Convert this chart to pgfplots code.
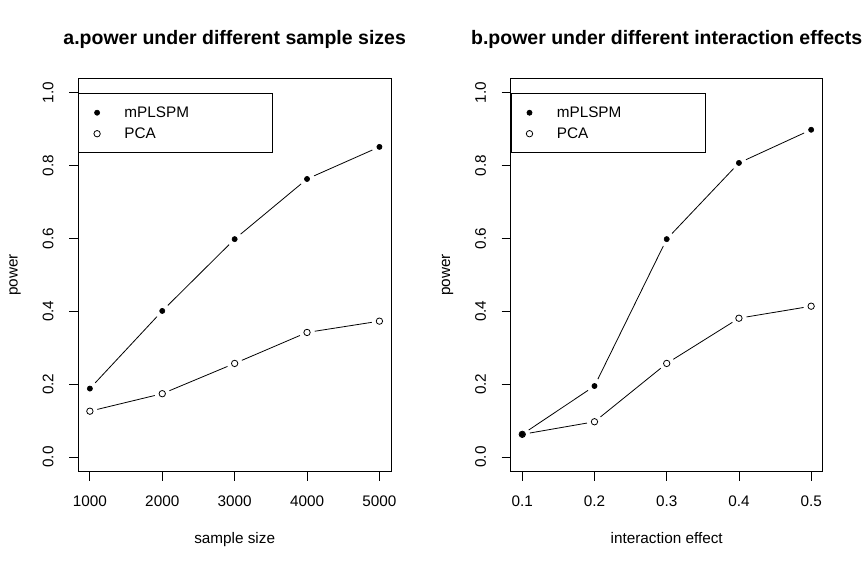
\documentclass[border=0pt]{standalone}
\usepackage{pgfplots}
\pgfplotsset{compat=1.18}
\usepackage{fontspec}
\setmainfont{Liberation Sans}

\newcommand{\lblfont}{\fontsize{15.3bp}{18bp}\selectfont}

\pgfplotsset{
  rpanel/.style={
    scale only axis, anchor=south west,
    height=393.7bp,
    ymin=-0.04, ymax=1.04,
    ytick={0,0.2,0.4,0.6,0.8,1},
    yticklabels={0.0,0.2,0.4,0.6,0.8,1.0},
    tick pos=left, tick align=outside, major tick length=9bp,
    axis line style={line width=0.8bp},
    every tick/.style={black, line width=0.8bp},
    tick label style={font=\lblfont},
    xticklabel style={anchor=base}, xticklabel shift=26bp,
    yticklabel style={rotate=90, anchor=base}, yticklabel shift=15.8bp,
    every axis x label/.style={at={(axis description cs:0.5,-0.1836)}, anchor=base, font=\lblfont},
    every axis y label/.style={at={(axis description cs:-0.1944,0.5)}, rotate=90, anchor=base, font=\lblfont},
    ylabel={power},
    title style={at={(axis description cs:0.5,1.0711)}, anchor=base,
      font=\bfseries\fontsize{19.5bp}{22bp}\selectfont},
    legend style={at={(axis description cs:0,0.9611)}, anchor=north west,
      draw=black, line width=0.8bp, inner xsep=0pt, inner ysep=8.5bp,
      row sep=0pt, nodes={inner sep=0pt}, font=\lblfont},
    legend cell align=left,
    legend image code/.code={%
      \path[draw=none, fill=none] (-18.4bp,-10.5bp) rectangle (27.3bp,10.5bp);
      \draw[##1] plot coordinates {(0bp,0bp)};},
    ln/.style={black, line width=0.8bp, no marks, forget plot},
    mask/.style={only marks, mark=*, mark size=7.5bp, draw=white, fill=white,
      mark options={draw=white, fill=white}, forget plot},
    full/.style={only marks, mark=*, mark size=2.6bp,
      mark options={draw=black, fill=black, line width=0.6bp}},
    open/.style={only marks, mark=o, mark size=3.2bp,
      mark options={draw=black, line width=0.8bp}},
  }
}

\begin{document}
\begin{tikzpicture}
\useasboundingbox (0,0) rectangle (864bp,570bp);

\begin{axis}[rpanel, at={(78.3bp,98.3bp)}, width=312.7bp,
  xmin=840, xmax=5160,
  xtick={1000,2000,3000,4000,5000},
  xticklabels={1000,2000,3000,4000,5000},
  xlabel={sample size},
  title={a.power under different sample sizes}]
\addplot[ln] coordinates {(1000,0.188) (2000,0.401) (3000,0.598) (4000,0.763) (5000,0.851)};
\addplot[ln] coordinates {(1000,0.126) (2000,0.174) (3000,0.257) (4000,0.342) (5000,0.373)};
\addplot[mask] coordinates {(1000,0.188) (2000,0.401) (3000,0.598) (4000,0.763) (5000,0.851)
  (1000,0.126) (2000,0.174) (3000,0.257) (4000,0.342) (5000,0.373)};
\addplot[full] coordinates {(1000,0.188) (2000,0.401) (3000,0.598) (4000,0.763) (5000,0.851)};
\addlegendentry{\makebox[148.3bp][l]{mPLSPM}}
\addplot[open] coordinates {(1000,0.126) (2000,0.174) (3000,0.257) (4000,0.342) (5000,0.373)};
\addlegendentry{\makebox[148.3bp][l]{PCA}}
\end{axis}

\begin{axis}[rpanel, at={(510.7bp,98.3bp)}, width=312bp,
  xmin=0.084, xmax=0.516,
  xtick={0.1,0.2,0.3,0.4,0.5},
  xticklabels={0.1,0.2,0.3,0.4,0.5},
  xlabel={interaction effect},
  title={b.power under different interaction effects}]
\addplot[ln] coordinates {(0.1,0.0625) (0.2,0.195) (0.3,0.598) (0.4,0.807) (0.5,0.898)};
\addplot[ln] coordinates {(0.1,0.0625) (0.2,0.097) (0.3,0.257) (0.4,0.381) (0.5,0.414)};
\addplot[mask] coordinates {(0.1,0.0625) (0.2,0.195) (0.3,0.598) (0.4,0.807) (0.5,0.898)
  (0.2,0.097) (0.3,0.257) (0.4,0.381) (0.5,0.414)};
\addplot[full] coordinates {(0.1,0.0625) (0.2,0.195) (0.3,0.598) (0.4,0.807) (0.5,0.898)};
\addlegendentry{\makebox[148.3bp][l]{mPLSPM}}
\addplot[open] coordinates {(0.1,0.0625) (0.2,0.097) (0.3,0.257) (0.4,0.381) (0.5,0.414)};
\addlegendentry{\makebox[148.3bp][l]{PCA}}
\end{axis}
\end{tikzpicture}
\end{document}
